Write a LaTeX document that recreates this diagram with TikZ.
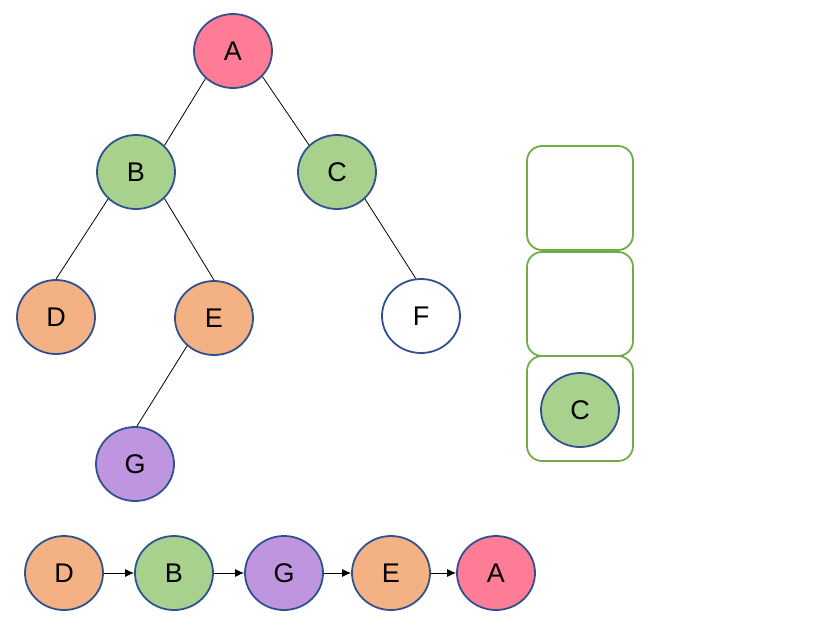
\documentclass[tikz,border=0pt]{standalone}
\usepackage{fontspec}
\setmainfont{Liberation Sans}
\usetikzlibrary{shapes.geometric,arrows.meta}
\definecolor{pinkA}{RGB}{255,124,150}
\definecolor{greenB}{RGB}{169,209,142}
\definecolor{orangeD}{RGB}{244,177,131}
\definecolor{purpleG}{RGB}{191,149,223}
\definecolor{rimblue}{RGB}{47,82,143}
\definecolor{stackgreen}{RGB}{112,173,71}
\tikzset{
  tnode/.style={ellipse, draw=rimblue, line width=1.8pt, minimum width=78pt, minimum height=74pt, inner sep=0pt, font=\fontsize{27}{30}\selectfont},
  tedge/.style={draw=black, line width=0.8pt},
  seqarrow/.style={draw=black, line width=0.9pt, -{Latex[length=9pt,width=8pt]}},
  stackbox/.style={draw=stackgreen, line width=1.8pt, rounded corners=15pt}
}
\begin{document}
\begin{tikzpicture}[x=1pt,y=-1pt]
\useasboundingbox (0,0) rectangle (828,638);
% tree
\node[tnode, fill=pinkA] (A) at (233,51) {A};
\node[tnode, fill=greenB] (B) at (136,172) {B};
\node[tnode, fill=greenB] (C) at (337,172) {C};
\node[tnode, fill=orangeD] (D) at (56,317) {D};
\node[tnode, fill=orangeD] (E) at (214,318) {E};
\node[tnode, fill=white] (F) at (421,316) {F};
\node[tnode, fill=purpleG] (G) at (135,464) {G};
\draw[tedge] (A.225) -- (B.43);
\draw[tedge] (A.319) -- (C.136);
\draw[tedge] (B.224) -- (D.90);
\draw[tedge] (B.317) -- (E.90);
\draw[tedge] (C.316) -- (F.98);
\draw[tedge] (E.226) -- (G.87);
% stack
\path[stackbox] (527,146) rectangle (633,250);
\path[stackbox] (527,252) rectangle (633,356);
\path[stackbox] (527,356) rectangle (633,461);
\node[tnode, fill=greenB] (SC) at (580,410) {C};
% sequence
\node[tnode, fill=orangeD] (s1) at (64,573) {D};
\node[tnode, fill=greenB] (s2) at (174,573) {B};
\node[tnode, fill=purpleG] (s3) at (284,573) {G};
\node[tnode, fill=orangeD] (s4) at (391,573) {E};
\node[tnode, fill=pinkA] (s5) at (496,573) {A};
\draw[seqarrow] (s1) -- (s2);
\draw[seqarrow] (s2) -- (s3);
\draw[seqarrow] (s3) -- (s4);
\draw[seqarrow] (s4) -- (s5);
\end{tikzpicture}
\end{document}
